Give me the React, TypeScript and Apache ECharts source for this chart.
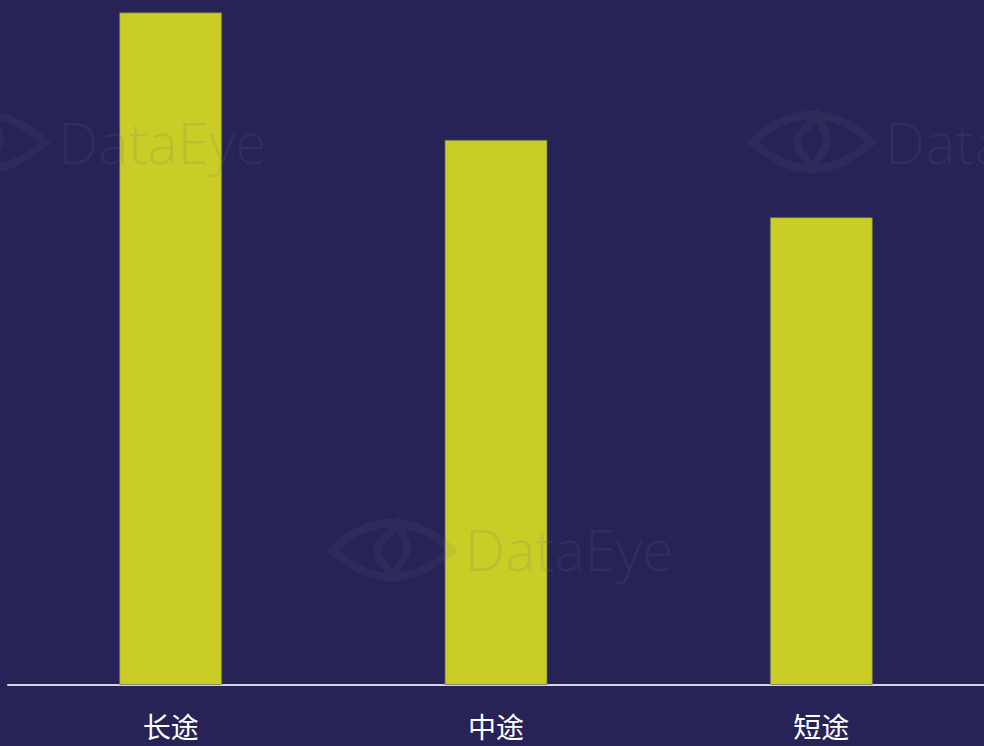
import React, { useEffect, useRef } from "react";
import * as echarts from "echarts";

const categories = ["长途", "中途", "短途"];
const values = [98.2, 79.6, 68.3];
const yMax = 100;

const eyePath =
  "M -60 0 Q 0 -54 60 0 Q 0 54 -60 0 Z " +
  "M 6 -27 L -13 -6 Q -18 4 -9 13 L 1 26 L 13 6 Q 18 -4 11 -14 Z";

let registered = false;
function registerEye() {
  if (registered) return;
  registered = true;
  const Eye = echarts.graphic.extendPath(eyePath, {});
  echarts.graphic.registerShape("dataeye", Eye as any);
}

const wmColor = "rgba(110,110,135,0.15)";
const eyeColor = "rgba(110,110,135,0.11)";

function watermark(cx: number, cy: number, bottom: number) {
  return {
    type: "group",
    z: 100,
    silent: true,
    children: [
      {
        type: "dataeye",
        x: cx,
        y: cy,
        z: 100,
        style: { fill: "none", stroke: eyeColor, lineWidth: 8 },
      },
      {
        type: "text",
        x: cx + 73,
        y: bottom,
        z: 100,
        style: {
          text: "DataEye",
          fill: wmColor,
          font: '300 57px "Open Sans", Lato, sans-serif',
          verticalAlign: "bottom",
        },
      },
    ],
  };
}

export default function App() {
  const ref = useRef<HTMLDivElement>(null);
  useEffect(() => {
    document.body.style.margin = "0";
    document.body.style.background = "#272356";
    registerEye();
    const chart = echarts.init(ref.current!, null, { renderer: "svg" });
    chart.setOption({
      animation: false,
      backgroundColor: "#272356",
      grid: { left: 8, width: 979, top: 0, bottom: 61, containLabel: false },
      xAxis: {
        type: "category",
        data: categories,
        axisLine: { show: true, lineStyle: { color: "#d4d4dc", width: 2 } },
        axisTick: { show: false },
        axisLabel: {
          color: "#ffffff",
          fontSize: 28,
          margin: 27,
          fontFamily: '"Noto Sans CJK SC", sans-serif',
        },
        splitLine: { show: false },
      },
      yAxis: {
        type: "value",
        min: 0,
        max: yMax,
        show: false,
        splitLine: { show: false },
      },
      series: [
        {
          type: "bar",
          data: values,
          barWidth: 103,
          itemStyle: {
            color: "#c9cd25",
            borderColor: "rgba(110,110,90,0.7)",
            borderWidth: 1,
          },
        },
      ],
      graphic: [
        watermark(-15, 142, 170),
        watermark(392, 550, 577),
        watermark(812, 142, 170),
      ],
    });
    return () => chart.dispose();
  }, []);
  return (
    <div
      ref={ref}
      style={{ position: "absolute", left: 0, top: 0, width: 984, height: 746 }}
    />
  );
}
